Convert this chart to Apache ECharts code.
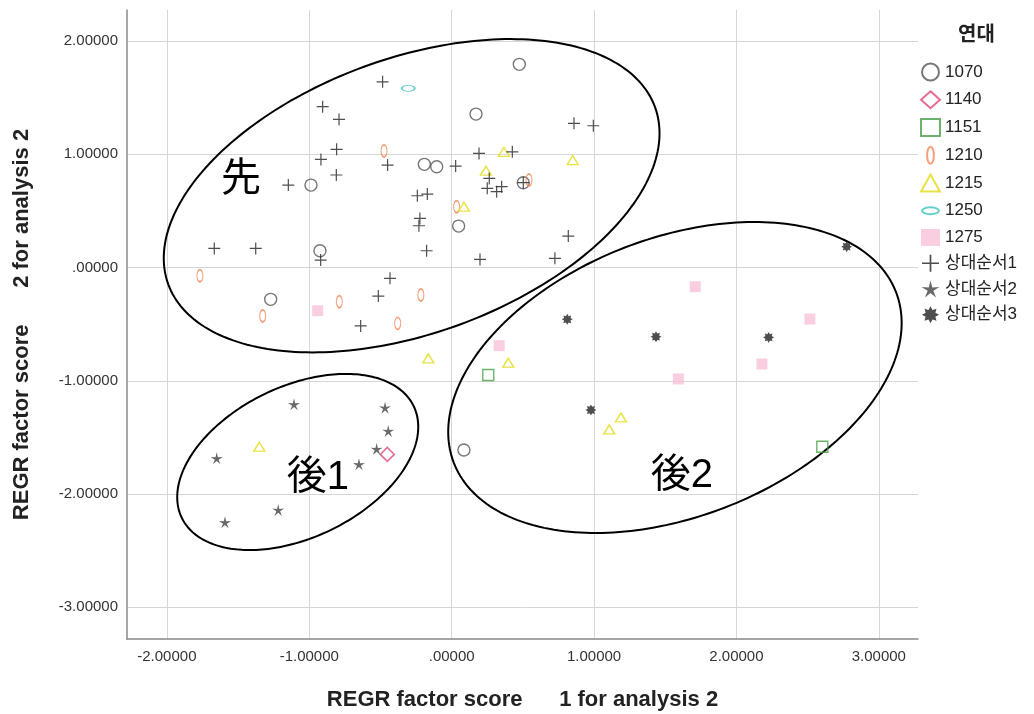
<!DOCTYPE html>
<html><head><meta charset="utf-8">
<script src="https://cdn.jsdelivr.net/npm/echarts@6/dist/echarts.min.js"></script>
<style>html,body{margin:0;padding:0;background:#fff}#c{width:1034px;height:714px}</style>
</head><body><div id="c"></div><script>
// ---- data ----
const xTicks = [-2, -1, 0, 1, 2, 3];
const yTicks = [-3, -2, -1, 0, 1, 2];
const seriesNames = ['1070', '1140', '1151', '1210', '1215', '1250', '1275', '상대순서1', '상대순서2', '상대순서3'];
const s1070 = [[-0.925,0.148],[-0.988,0.728],[-1.271,-0.281],[0.475,1.794],[0.171,1.355],[-0.192,0.911],[-0.105,0.890],[0.503,0.749],[0.049,0.366],[0.086,-1.611]];
const s1140 = [[-0.452,-1.650]];
const s1151 = [[0.257,-0.949],[2.603,-1.582]];
const s1210 = [[-0.475,1.029],[-1.768,-0.072],[-0.789,-0.302],[-1.327,-0.428],[-0.379,-0.493],[-0.216,-0.243],[0.543,0.773],[0.035,0.537]];
const s1215 = [[0.367,1.022],[0.850,0.949],[0.241,0.855],[0.086,0.537],[-0.164,-0.802],[0.398,-0.840],[1.189,-1.323],[1.107,-1.429],[-1.351,-1.582]];
const s1250 = [[-0.305,1.582]];
const s1275 = [[-0.941,-0.381],[0.334,-0.690],[1.711,-0.169],[2.516,-0.455],[2.179,-0.852],[1.592,-0.984]];
const sOrder1 = [[-0.485,1.640],[-0.906,1.420],[-0.791,1.308],[-0.808,1.044],[-0.918,0.955],[-0.450,0.905],[-0.810,0.817],[-1.147,0.728],[-1.667,0.169],[-1.376,0.169],[-0.920,0.066],[-0.433,-0.095],[-0.515,-0.252],[-0.639,-0.516],[0.859,1.273],[0.995,1.252],[0.192,1.008],[0.426,1.022],[0.028,0.896],[0.264,0.787],[0.250,0.699],[0.351,0.714],[0.316,0.670],[0.503,0.749],[-0.241,0.634],[-0.171,0.649],[-0.223,0.434],[-0.230,0.369],[-0.176,0.148],[0.199,0.072],[0.819,0.278],[0.725,0.081]];
const sOrder2 = [[-1.107,-1.208],[-0.468,-1.238],[-0.445,-1.444],[-0.527,-1.603],[-0.651,-1.738],[-1.650,-1.685],[-1.218,-2.141],[-1.592,-2.250]];
const sOrder3 = [[2.774,0.184],[0.812,-0.457],[1.435,-0.611],[2.226,-0.617],[0.978,-1.258]];
const groupNames = ['先', '後1', '後2'];
const groupCenters = [[-0.281,0.634],[-1.081,-1.717],[1.568,-0.971]];
const groupLabelPos = [[-1.480,0.773],[-0.939,-1.859],[1.617,-1.841]];
const xTitle = 'REGR factor score      1 for analysis 2';
const yTitle = 'REGR factor score      2 for analysis 2';

// ---- annotation geometry (pixels) ----
const ellipseShape = [{a:259,b:137.5,rot:20},{a:128.7,b:75.6,rot:25.7},{a:237,b:139.3,rot:21.1}];

// ---- symbol paths ----
function starPath(n, inner, rot0) {
  let d = '';
  for (let i = 0; i < 2 * n; i++) {
    const r = i % 2 === 0 ? 1 : inner;
    const ang = rot0 + i * Math.PI / n;
    d += (i === 0 ? 'M' : 'L') + (r * Math.sin(ang)).toFixed(3) + ',' + (-r * Math.cos(ang)).toFixed(3);
  }
  return 'path://' + d + 'Z';
}
const plusPath = 'path://M-0.1,-1H0.1V-0.1H1V0.1H0.1V1H-0.1V0.1H-1V-0.1H-0.1Z';
const ovalPath = 'path://M0,-1C0.552,-1,1,-0.552,1,0C1,0.552,0.552,1,0,1C-0.552,1,-1,0.552,-1,0C-1,-0.552,-0.552,-1,0,-1Z';
const tallOvalLegend = 'path://M-1,-1M1,1M0,-1C0.22,-1,0.4,-0.552,0.4,0C0.4,0.552,0.22,1,0,1C-0.22,1,-0.4,0.552,-0.4,0C-0.4,-0.552,-0.22,-1,0,-1Z';
const wideOvalLegend = 'path://M-1,-1M1,1M0,-0.4C0.552,-0.4,1,-0.22,1,0C1,0.22,0.552,0.4,0,0.4C-0.552,0.4,-1,0.22,-1,0C-1,-0.22,-0.552,-0.4,0,-0.4Z';
const star5 = starPath(5, 0.32, 0);
const star8 = starPath(8, 0.62, 0);

const FONT = '"Liberation Sans", Arial, "Noto Sans CJK KR", sans-serif';
function fmt(v) {
  let s = Math.abs(v).toFixed(5);
  if (s.charAt(0) === '0') s = s.slice(1);
  return (v < 0 ? '-' : '') + s;
}
const hollow = (c, w) => ({ color: 'rgba(0,0,0,0)', borderColor: c, borderWidth: w || 1.3 });

function sc(name, data, symbol, size, itemStyle) {
  return { name, type: 'scatter', data, symbol, symbolSize: size, itemStyle, z: 3,
           emphasis: { disabled: true } };
}

const chart = echarts.init(document.getElementById('c'), null, { renderer: 'canvas' });
chart.setOption({
  animation: false,
  backgroundColor: '#fff',
  grid: { left: 127, right: 116, top: 10, bottom: 75, containLabel: false, outerBoundsMode: 'none' },
  title: { text: '연대', left: 953, top: 20, textStyle: { fontFamily: FONT, fontSize: 20, fontWeight: 'bold', color: '#222' } },
  legend: {
    orient: 'vertical', left: 915, top: 57.5, itemWidth: 19, itemHeight: 17, itemGap: 8.75,
    textStyle: { fontFamily: FONT, fontSize: 17, color: '#222' },
    data: [
      { name: seriesNames[0] }, { name: seriesNames[1] }, { name: seriesNames[2] },
      { name: seriesNames[3], icon: tallOvalLegend }, { name: seriesNames[4] },
      { name: seriesNames[5], icon: wideOvalLegend }, { name: seriesNames[6] },
      { name: seriesNames[7] }, { name: seriesNames[8] }, { name: seriesNames[9] }
    ],
    selectedMode: false
  },
  xAxis: {
    type: 'value', min: -2.28, max: 3.275,
    axisLine: { show: true, onZero: false, lineStyle: { color: '#888', width: 1.5 } },
    axisTick: { show: false, customValues: xTicks },
    axisLabel: { customValues: xTicks, formatter: fmt, fontFamily: FONT, fontSize: 15, color: '#333', margin: 10 },
    splitLine: { show: true, lineStyle: { color: '#d6d6d6', width: 1 } },
    name: xTitle, nameLocation: 'middle', nameGap: 50,
    nameTextStyle: { fontFamily: FONT, fontSize: 22, fontWeight: 'bold', color: '#222' }
  },
  yAxis: {
    type: 'value', min: -3.28, max: 2.274,
    axisLine: { show: true, onZero: false, lineStyle: { color: '#888', width: 1.5 } },
    axisTick: { show: false, customValues: yTicks },
    axisLabel: { customValues: yTicks, formatter: fmt, fontFamily: FONT, fontSize: 15, color: '#333', margin: 9 },
    splitLine: { show: true, lineStyle: { color: '#d6d6d6', width: 1 } },
    name: yTitle, nameLocation: 'middle', nameGap: 94, nameRotate: 90,
    nameTextStyle: { fontFamily: FONT, fontSize: 22, fontWeight: 'bold', color: '#222' }
  },
  series: [
    {
      type: 'custom', name: 'ellipses', silent: true, clip: false, z: 2,
      data: groupCenters.map((c, i) => [c[0], c[1], i]),
      encode: { x: 0, y: 1 },
      renderItem(params, api) {
        const e = ellipseShape[api.value(2)];
        const p = api.coord([api.value(0), api.value(1)]);
        const th = e.rot * Math.PI / 180;
        const pts = [];
        for (let k = 0; k < 240; k++) {
          const t = k / 240 * 2 * Math.PI;
          const ex = e.a * Math.cos(t), ey = e.b * Math.sin(t);
          pts.push([p[0] + ex * Math.cos(th) - ey * Math.sin(th), p[1] - (ex * Math.sin(th) + ey * Math.cos(th))]);
        }
        return { type: 'polygon', shape: { points: pts }, style: { fill: 'none', stroke: '#000', lineWidth: 2 } };
      }
    },
    {
      type: 'custom', name: 'groupLabels', silent: true, clip: false, z: 4,
      data: groupLabelPos.map((c, i) => [c[0], c[1], i]),
      encode: { x: 0, y: 1 },
      renderItem(params, api) {
        const p = api.coord([api.value(0), api.value(1)]);
        return { type: 'text', x: p[0], y: p[1], style: {
          text: groupNames[api.value(2)], fill: '#000', fontSize: 40,
          fontFamily: '"Liberation Sans", Arial, "Noto Sans CJK JP", sans-serif',
          align: 'center', verticalAlign: 'middle' } };
      }
    },
    sc(seriesNames[0], s1070, 'circle', 12, hollow('#555', 1.4)),
    sc(seriesNames[1], s1140, 'diamond', 14, hollow('#e0457b', 1.5)),
    sc(seriesNames[2], s1151, 'rect', 11, hollow('#46a046', 1.4)),
    sc(seriesNames[3], s1210, ovalPath, [6, 12], hollow('#f2885a', 1.4)),
    sc(seriesNames[4], s1215, 'triangle', [11, 9], hollow('#e2dc14', 1.4)),
    sc(seriesNames[5], s1250, ovalPath, [13, 6], hollow('#3cc4bc', 1.4)),
    sc(seriesNames[6], s1275, 'rect', 11, { color: '#f9c2da' }),
    sc(seriesNames[7], sOrder1, plusPath, 12, { color: '#222' }),
    sc(seriesNames[8], sOrder2, star5, 12, { color: '#444' }),
    sc(seriesNames[9], sOrder3, star8, 11, { color: '#222' })
  ]
});
</script></body></html>
